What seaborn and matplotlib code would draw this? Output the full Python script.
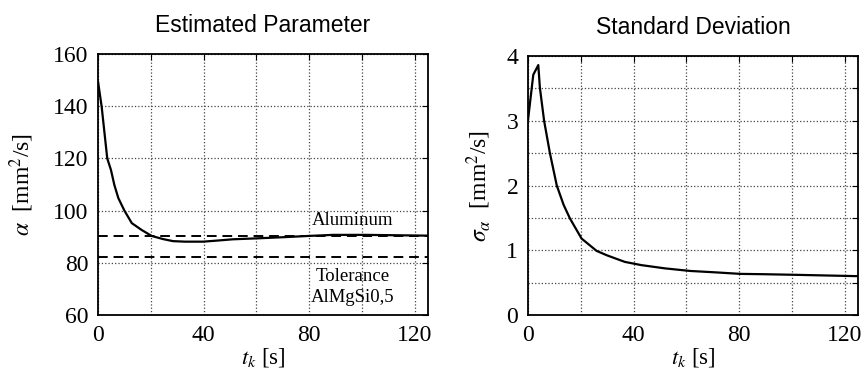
import numpy as np
import pandas as pd
import matplotlib
matplotlib.use("Agg")
import matplotlib.pyplot as plt
import seaborn as sns

# Estimated parameter alpha [mm^2/s]
t_alpha = [0, 1.4, 3.5, 4.9, 6.2, 7.7, 10.0, 12.8, 16.5, 20.3, 24.6, 28.4, 33, 39.8,
           45, 51, 61, 70, 80, 89, 101.7, 125]
alpha = [149.5, 139.7, 120.0, 115.6, 109.8, 104.8, 100.0, 95.2, 92.6, 90.3, 89.1, 88.3,
         88.1, 88.1, 88.5, 89.0, 89.4, 89.8, 90.3, 90.7, 90.7, 90.4]

# Standard deviation sigma_alpha [mm^2/s]
t_sigma = [0, 2.0, 3.9, 4.5, 6.1, 8.3, 10.9, 13.5, 15.9, 20.3, 26, 30, 36.7, 43, 51.9,
           61.5, 70.4, 80.5, 89.3, 102, 124.7]
sigma = [3.01, 3.71, 3.86, 3.51, 3.00, 2.50, 2.00, 1.70, 1.49, 1.18, 0.99, 0.92, 0.82,
         0.77, 0.72, 0.68, 0.66, 0.635, 0.63, 0.62, 0.60]

aluminum_level = 90.4
tolerance_level = 82.4

df_a = pd.DataFrame({"t": t_alpha, "v": alpha})
df_s = pd.DataFrame({"t": t_sigma, "v": sigma})

sns.set_theme(style="white")
plt.rcParams["font.family"] = ["Liberation Serif", "DejaVu Serif"]
plt.rcParams["mathtext.fontset"] = "stix"
plt.rcParams["text.color"] = "black"
plt.rcParams["axes.labelcolor"] = "black"
plt.rcParams["xtick.color"] = "black"
plt.rcParams["ytick.color"] = "black"

fig = plt.figure(figsize=(8.66, 3.72), dpi=100)
ax1 = fig.add_axes([98/866, 1-315/372, 330/866, 261/372])
ax2 = fig.add_axes([528/866, 1-315/372, 330/866, 259/372])

sns.lineplot(data=df_a, x="t", y="v", ax=ax1, color="black", lw=1.6)
ax1.axhline(aluminum_level, color="black", ls=(0, (5, 3)), lw=1.4)
ax1.axhline(tolerance_level, color="black", ls=(0, (5, 3)), lw=1.4)
ax1.text(96.5, 96.2, "Aluminum", ha="center", va="center", fontsize=13.5, color="black")
ax1.text(96.5, 74.8, "Tolerance", ha="center", va="center", fontsize=13.5, color="black")
ax1.text(96.5, 66.8, "AlMgSi0,5", ha="center", va="center", fontsize=13.5, color="black")
ax1.set_xlim(0, 125)
ax1.set_ylim(60, 160)
ax1.set_yticks([60, 80, 100, 120, 140, 160])
ax1.set_yticks(np.arange(60, 161, 20), minor=True)
ax1.set_ylabel(r"$\alpha$  [mm$^2$/s]", fontsize=17, labelpad=12)
ax1.set_title("Estimated Parameter", fontsize=16.5, family="Liberation Sans", pad=16)

sns.lineplot(data=df_s, x="t", y="v", ax=ax2, color="black", lw=1.6)
ax2.set_xlim(0, 125)
ax2.set_ylim(0, 4)
ax2.set_yticks([0, 1, 2, 3, 4])
ax2.set_yticks(np.arange(0, 4.01, 0.5), minor=True)
ax2.set_ylabel(r"$\sigma_\alpha$  [mm$^2$/s]", fontsize=17, labelpad=10)
ax2.set_title("Standard Deviation", fontsize=16.5, family="Liberation Sans", pad=16)

for ax in (ax1, ax2):
    ax.set_xticks([0, 40, 80, 120])
    ax.set_xticks(np.arange(0, 121, 20), minor=True)
    ax.set_xlabel(r"$t_k$ [s]", fontsize=16.5, labelpad=0)
    ax.grid(True, which="both", color="#444444", ls=":", lw=0.9)
    ax.tick_params(which="both", direction="in", top=True, right=True, length=4,
                   width=0.8, labelsize=17, color="black", labelcolor="black", pad=7)
    for s in ax.spines.values():
        s.set_color("black")
        s.set_linewidth(1.3)
    ax.set_axisbelow(True)

fig.savefig("out.png", dpi=100)
